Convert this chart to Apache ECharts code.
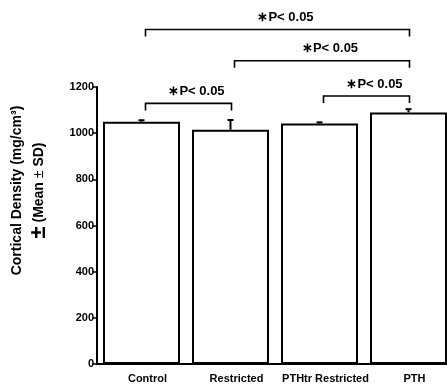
<!DOCTYPE html>
<html>
<head>
<meta charset="utf-8">
<script src="https://cdn.jsdelivr.net/npm/echarts@6/dist/echarts.min.js"></script>
<style>
	html, body { margin: 0; padding: 0; background: #fff; }
	#chart { width: 447px; height: 387px; }
</style>
</head>
<body>
<div id="chart"></div>
<script>
// groups and their cortical density (mean, SD)
var categories = ['Control', 'Restricted', 'PTHtr Restricted', 'PTH'];
var means = [1050, 1015, 1042, 1090];
var sds = [6, 42, 5, 14];

// y axis ticks
var yMin = 0;
var yMax = 1200;
var yStep = 200;

// significance brackets: from group, to group, height (in mg/cm3 units)
var bracketFrom = [0, 1, 0, 2];
var bracketTo = [3, 3, 1, 3];
var bracketLevel = [1449, 1314, 1129, 1161];
var bracketText = '\u2217P< 0.05';

var FONT = '"Liberation Sans", Arial, sans-serif';

var errData = [];
for(var i = 0; i < categories.length; i++) {
	errData.push([i, means[i], sds[i]]);
}
var bracketData = [];
for(var i = 0; i < bracketFrom.length; i++) {
	bracketData.push([bracketFrom[i], bracketTo[i], bracketLevel[i]]);
}

function renderError(params, api) {
	var i = api.value(0);
	var base = api.coord([i, api.value(1)]);
	var top = api.coord([i, api.value(1) + api.value(2)]);
	var st = { stroke: '#000', lineWidth: 2, fill: null };
	return {
		type: 'group',
		children: [{
			type: 'line',
			shape: { x1: base[0], y1: base[1], x2: top[0], y2: top[1] },
			style: st
		}, {
			type: 'line',
			shape: { x1: top[0] - 3, y1: top[1], x2: top[0] + 3, y2: top[1] },
			style: st
		}]
	};
}

function renderBracket(params, api) {
	var a = api.coord([api.value(0), api.value(2)]);
	var b = api.coord([api.value(1), api.value(2)]);
	var x1 = a[0] + 4, x2 = b[0] + 1, y = a[1];
	var drop = 7;
	return {
		type: 'group',
		children: [{
			type: 'polyline',
			shape: { points: [[x1, y + drop], [x1, y], [x2, y], [x2, y + drop]] },
			style: { stroke: '#000', lineWidth: 1.6, fill: null }
		}, {
			type: 'text',
			style: {
				text: bracketText,
				x: (x1 + x2) / 2 + 8,
				y: y - 12,
				align: 'center',
				verticalAlign: 'middle',
				font: 'bold 13px ' + FONT,
				fill: '#000'
			}
		}]
	};
}

var ech = echarts.init(document.getElementById('chart'));
var option = {
	animation: false,
	backgroundColor: '#fff',
	grid: {
		left: 97,
		width: 356,
		top: 87,
		bottom: 23,
		outerBoundsMode: 'none',
		containLabel: false
	},
	xAxis: [{
		type: 'category',
		data: categories,
		axisLine: { lineStyle: { color: '#000', width: 2 } },
		axisTick: { alignWithLabel: true, length: 3, lineStyle: { color: '#000', width: 1.5 } },
		axisLabel: {
			color: '#000',
			fontFamily: FONT,
			fontWeight: 'bold',
			fontSize: 11,
			margin: 9,
			interval: 0,
			padding: [0, 0, 0, 12]
		}
	}],
	yAxis: [{
		type: 'value',
		min: yMin,
		max: yMax,
		interval: yStep,
		name: 'Cortical Density (mg/cm\u00b3)\n{big|\u00b1} {b|(Mean }{thin|\u00b1}{b| SD)}',
		nameLocation: 'middle',
		nameGap: 47,
		nameRotate: 90,
		nameTextStyle: {
			color: '#000',
			fontFamily: FONT,
			fontWeight: 'bold',
			fontSize: 14,
			lineHeight: 22,
			padding: [0, 0, 0, 70],
			rich: {
				big: { fontFamily: FONT, fontWeight: 'bold', fontSize: 22, color: '#000' },
				b: { fontFamily: FONT, fontWeight: 'bold', fontSize: 14, color: '#000' },
				thin: { fontFamily: FONT, fontWeight: 'normal', fontSize: 14, color: '#000' }
			}
		},
		axisLine: { show: true, lineStyle: { color: '#000', width: 2 } },
		axisTick: { show: true, length: 4, lineStyle: { color: '#000', width: 1.5 } },
		splitLine: { show: false },
		axisLabel: {
			color: '#000',
			fontFamily: FONT,
			fontWeight: 'bold',
			fontSize: 11,
			margin: 3,
			formatter: function(v) { return String(v); }
		}
	}],
	series: [{
		type: 'bar',
		data: means,
		barWidth: 77,
		itemStyle: { color: '#fff', borderColor: '#000', borderWidth: 2 },
		z: 2
	}, {
		type: 'custom',
		data: errData,
		renderItem: renderError,
		encode: { x: 0, y: [1, 2] },
		z: 3
	}, {
		type: 'custom',
		data: bracketData,
		renderItem: renderBracket,
		encode: { x: [0, 1], y: 2 },
		clip: false,
		z: 3
	}]
};
ech.setOption(option);
</script>
</body>
</html>
